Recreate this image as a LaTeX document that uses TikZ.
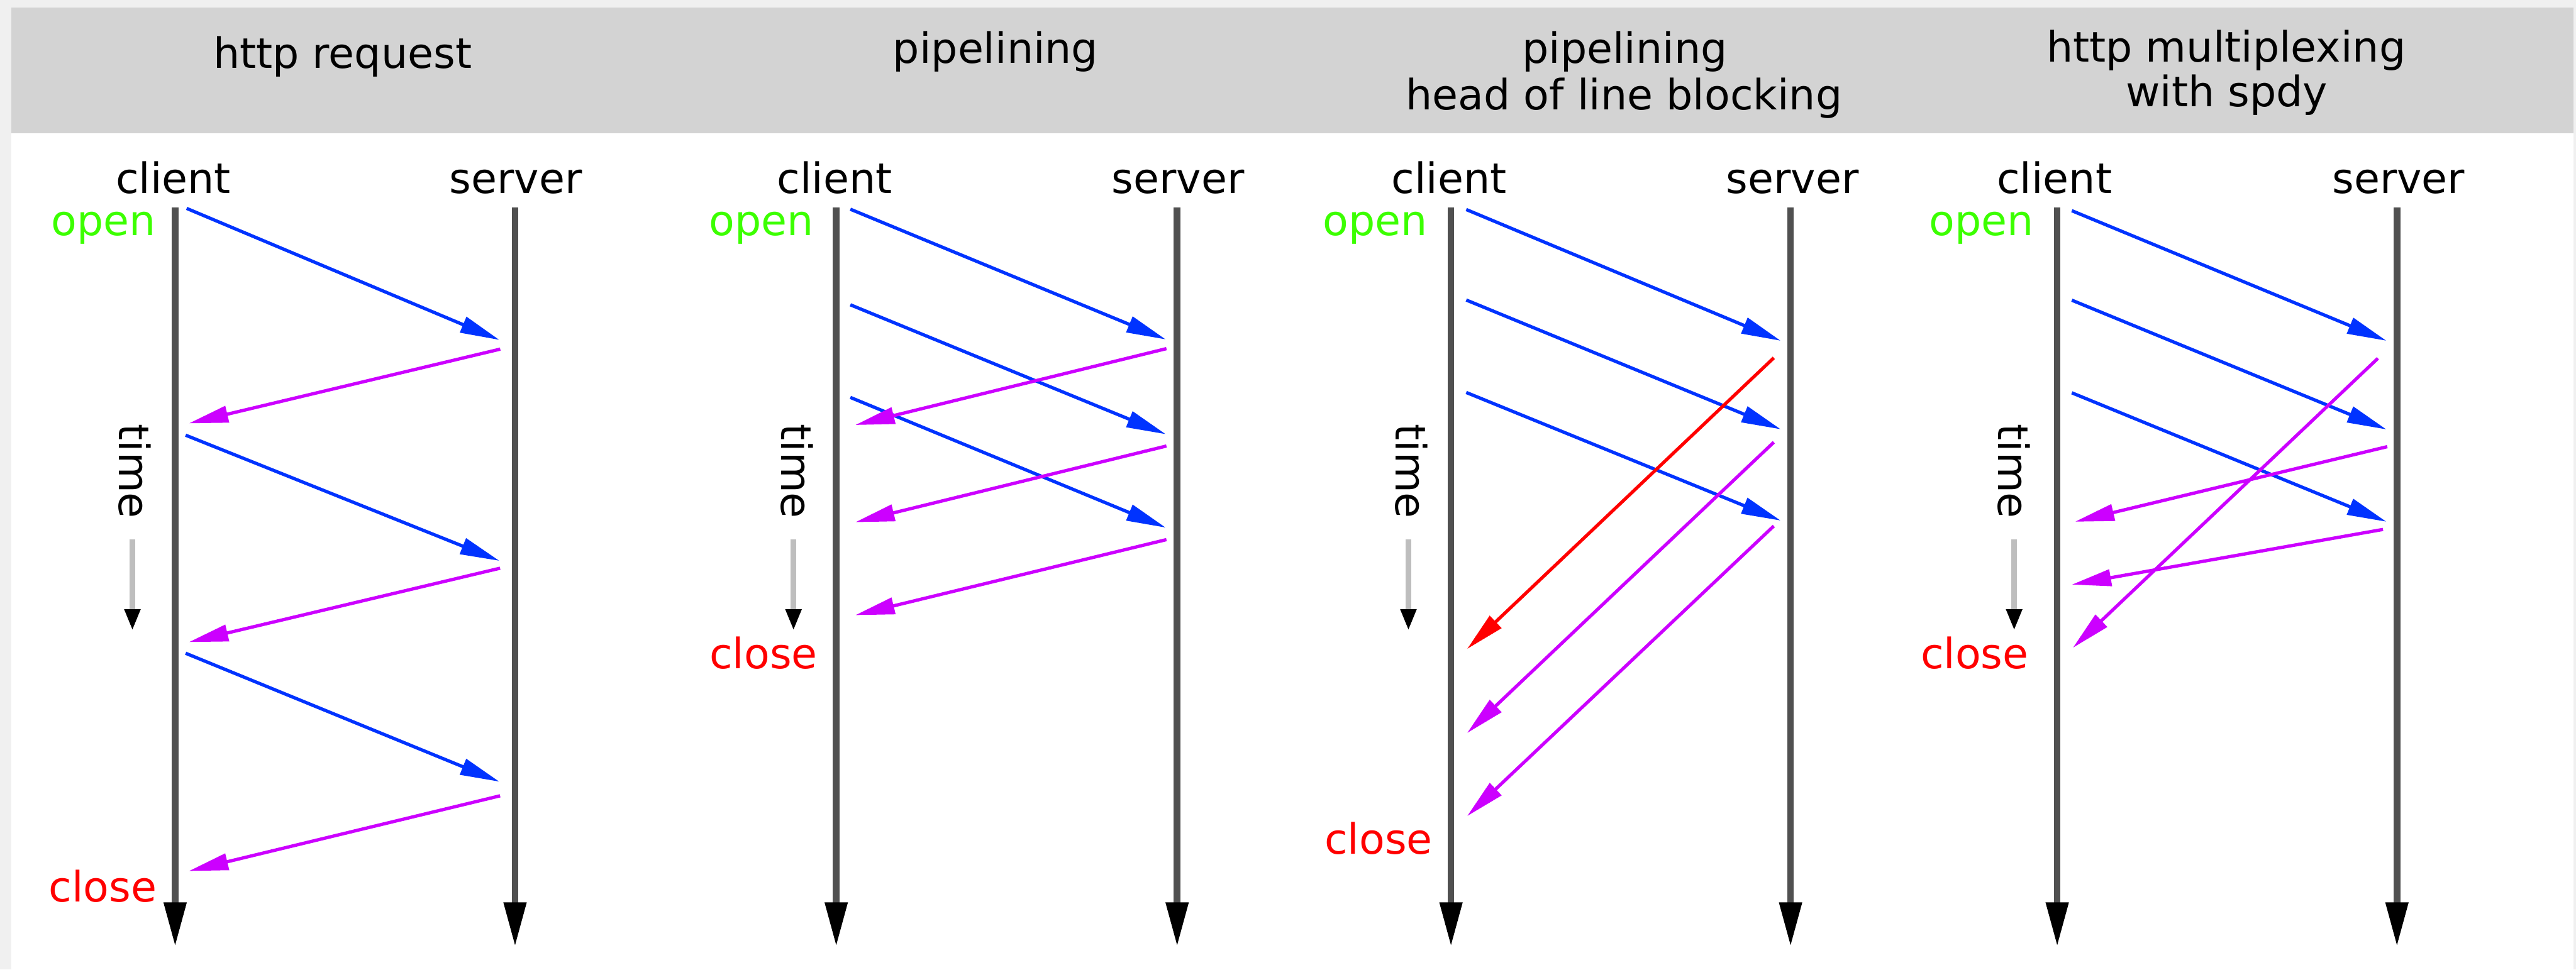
\documentclass[tikz,border=0pt]{standalone}
\usepackage{fontspec}
\setmainfont{DejaVu Sans}
\usetikzlibrary{arrows.meta}
\definecolor{hdrgray}{RGB}{211,211,211}
\definecolor{outergray}{RGB}{240,240,240}
\definecolor{msgblue}{RGB}{0,51,255}
\definecolor{msgmag}{RGB}{204,0,255}
\definecolor{msgred}{RGB}{255,0,0}
\definecolor{opengreen}{RGB}{60,255,0}
\definecolor{closered}{RGB}{255,0,0}
\definecolor{lifegray}{RGB}{80,80,80}
\definecolor{timegray}{RGB}{190,190,190}
\begin{document}
\begin{tikzpicture}[x=1pt,y=-1pt,
  every node/.style={inner sep=0pt, outer sep=0pt, font=\fontsize{25.5}{28}\selectfont},
  titlelbl/.style={anchor=base, text=black},
  rolelbl/.style={anchor=base, text=black},
  openlbl/.style={anchor=base east, text=opengreen},
  closelbl/.style={anchor=base east, text=closered},
  timelbl/.style={rotate=-90, anchor=center, text=black},
  lifeline/.style={draw=lifegray, line width=4pt, -{Triangle[length=27pt,width=13pt,color=black]}},
  timearrow/.style={draw=timegray, line width=3.5pt, -{Triangle[length=13pt,width=9pt,color=black]}},
  msgblue/.style={draw=msgblue, line width=2pt, -{Triangle[length=24pt,width=10pt]}},
  msgmag/.style={draw=msgmag, line width=2pt, -{Triangle[length=24pt,width=10pt]}},
  msgred/.style={draw=msgred, line width=2pt, -{Triangle[length=24pt,width=10pt]}}
]
\useasboundingbox (0,0) rectangle (1568,590.46);
\fill[outergray] (0,0) rectangle (1568,590.46);
\fill[white] (7,4.5) rectangle (1566.6,590.46);
\fill[hdrgray] (7,4.5) rectangle (1566.6,81);

% ---------- titles ----------
\node[titlelbl] (t1) at (208.5,41.4) {http request};
\node[titlelbl] (t2) at (606,38.6) {pipelining};
\node[titlelbl] (t3a) at (989,38.6) {pipelining};
\node[titlelbl] (t3b) at (988.5,66.8) {head of line blocking};
\node[titlelbl] (t4a) at (1355,37.8) {http multiplexing};
\node[titlelbl] (t4b) at (1355.4,64.7) {with spdy};

% ---------- lifelines ----------
\foreach \n/\x in {c1/106.6, s1/313.5, c2/509, s2/716.5, c3/883.2, s3/1089.9, c4/1252.2, s4/1459}{
  \coordinate (\n t) at (\x,126.5);
  \coordinate (\n b) at (\x,576.5);
}
\foreach \n in {c1,s1,c2,s2,c3,s3,c4,s4}{
  \draw[lifeline] (\n t) -- (\n b);
}

% ---------- client / server labels ----------
\node[rolelbl] (lc1) at (105.5,117.7) {client};
\node[rolelbl] (ls1) at (314,117.7) {server};
\node[rolelbl] (lc2) at (508,117.7) {client};
\node[rolelbl] (ls2) at (717,117.7) {server};
\node[rolelbl] (lc3) at (882,117.7) {client};
\node[rolelbl] (ls3) at (1091,117.7) {server};
\node[rolelbl] (lc4) at (1250.5,117.7) {client};
\node[rolelbl] (ls4) at (1460,117.7) {server};

% ---------- open / close ----------
\node[openlbl] (o1) at (95,143.5) {open};
\node[openlbl] (o2) at (495.2,143.5) {open};
\node[openlbl] (o3) at (869,143.5) {open};
\node[openlbl] (o4) at (1238,143.5) {open};
\node[closelbl] (x1) at (95.3,549) {close};
\node[closelbl] (x2) at (497.6,407) {close};
\node[closelbl] (x3) at (872,520) {close};
\node[closelbl] (x4) at (1234.8,407) {close};

% ---------- time labels and arrows ----------
\foreach \i/\lx/\ax in {1/82/80.6, 2/485/483, 3/859/857.3, 4/1226/1226}{
  \node[timelbl] (tl\i) at (\lx,287) {time};
  \coordinate (ta\i) at (\ax,328.6);
  \coordinate (tb\i) at (\ax,384);
  \draw[timearrow] (ta\i) -- (tb\i);
}

% ---------- panel 1 : http request ----------
\coordinate (p1a1) at (113.6,126.9); \coordinate (p1a2) at (304,207);
\coordinate (p1b1) at (304.5,212.6); \coordinate (p1b2) at (115,257.8);
\coordinate (p1c1) at (113,265);     \coordinate (p1c2) at (304,341.5);
\coordinate (p1d1) at (304.4,346);   \coordinate (p1d2) at (115,391);
\coordinate (p1e1) at (113,397.8);   \coordinate (p1e2) at (304,476);
\coordinate (p1f1) at (304.4,484.6); \coordinate (p1f2) at (115,530.4);
\draw[msgblue] (p1a1) -- (p1a2);
\draw[msgmag]  (p1b1) -- (p1b2);
\draw[msgblue] (p1c1) -- (p1c2);
\draw[msgmag]  (p1d1) -- (p1d2);
\draw[msgblue] (p1e1) -- (p1e2);
\draw[msgmag]  (p1f1) -- (p1f2);

% ---------- panel 2 : pipelining ----------
\coordinate (p2a1) at (517.6,127.4); \coordinate (p2a2) at (709.6,206.7);
\coordinate (p2b1) at (517.6,185.6); \coordinate (p2b2) at (709.6,264.4);
\coordinate (p2c1) at (517.6,242);   \coordinate (p2c2) at (709.6,321.3);
\coordinate (p2d1) at (710,212.3);   \coordinate (p2d2) at (520.6,258.8);
\coordinate (p2e1) at (710,271.6);   \coordinate (p2e2) at (520.6,318);
\coordinate (p2f1) at (710,328.6);   \coordinate (p2f2) at (520.6,374.6);
\draw[msgblue] (p2a1) -- (p2a2);
\draw[msgblue] (p2b1) -- (p2b2);
\draw[msgblue] (p2c1) -- (p2c2);
\draw[msgmag]  (p2d1) -- (p2d2);
\draw[msgmag]  (p2e1) -- (p2e2);
\draw[msgmag]  (p2f1) -- (p2f2);

% ---------- panel 3 : head of line blocking ----------
\coordinate (p3a1) at (892.5,127.6);  \coordinate (p3a2) at (1083.9,207.5);
\coordinate (p3b1) at (892.5,182.7);  \coordinate (p3b2) at (1083.9,261.4);
\coordinate (p3c1) at (892.5,239);    \coordinate (p3c2) at (1083.9,317);
\coordinate (p3d1) at (1079.7,217.9); \coordinate (p3d2) at (893,395.2);
\coordinate (p3e1) at (1079.7,269.3); \coordinate (p3e2) at (893,446.4);
\coordinate (p3f1) at (1079.7,320.3); \coordinate (p3f2) at (893,497);
\draw[msgblue] (p3a1) -- (p3a2);
\draw[msgblue] (p3b1) -- (p3b2);
\draw[msgblue] (p3c1) -- (p3c2);
\draw[msgred]  (p3d1) -- (p3d2);
\draw[msgmag]  (p3e1) -- (p3e2);
\draw[msgmag]  (p3f1) -- (p3f2);

% ---------- panel 4 : multiplexing ----------
\coordinate (p4a1) at (1261.1,128.3); \coordinate (p4a2) at (1452.6,207.5);
\coordinate (p4b1) at (1261.1,182.8); \coordinate (p4b2) at (1452.6,261.5);
\coordinate (p4c1) at (1261.1,239.2); \coordinate (p4c2) at (1452.6,317.7);
\coordinate (p4d1) at (1447.4,218.2); \coordinate (p4d2) at (1261.7,394.5);
\coordinate (p4e1) at (1453.1,272);   \coordinate (p4e2) at (1263,317.7);
\coordinate (p4f1) at (1450.5,322.4); \coordinate (p4f2) at (1261.1,356);
\draw[msgblue] (p4a1) -- (p4a2);
\draw[msgblue] (p4b1) -- (p4b2);
\draw[msgblue] (p4c1) -- (p4c2);
\draw[msgmag]  (p4d1) -- (p4d2);
\draw[msgmag]  (p4e1) -- (p4e2);
\draw[msgmag]  (p4f1) -- (p4f2);
\end{tikzpicture}
\end{document}
